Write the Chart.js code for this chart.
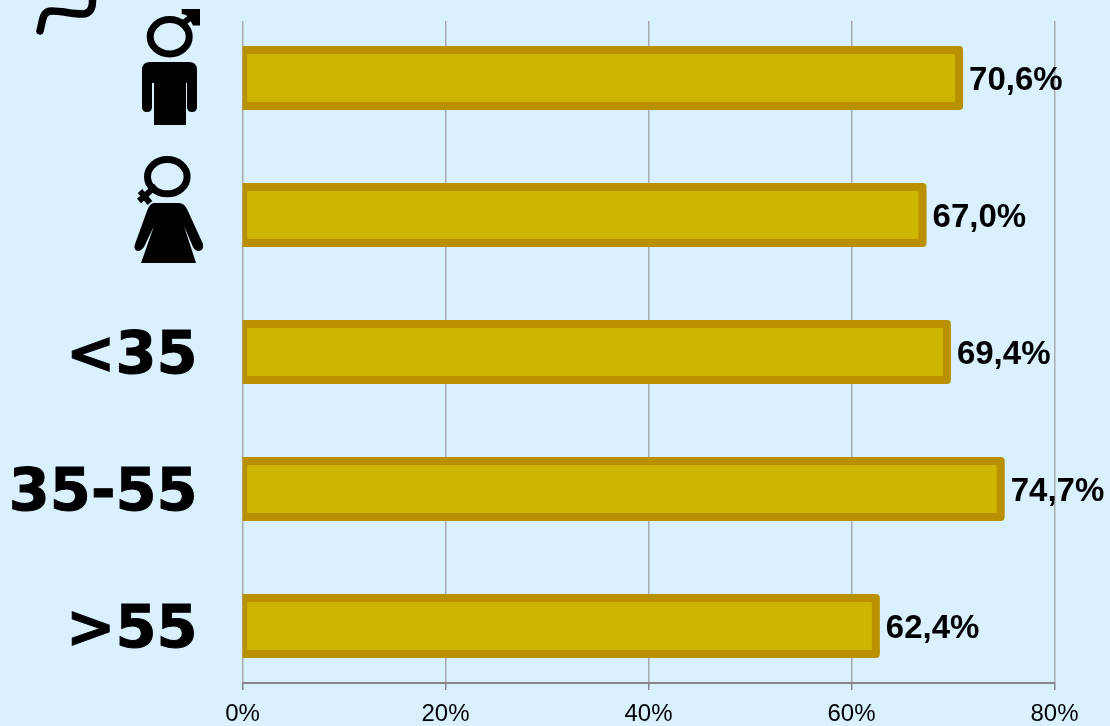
<!DOCTYPE html>
<html>
<head>
<meta charset="utf-8">
<script src="https://cdn.jsdelivr.net/npm/chart.js@4/dist/chart.umd.min.js"></script>
<style>
  html, body { margin: 0; padding: 0; background: #D9F1FF; }
  #wrap { width: 1110px; height: 726px; overflow: hidden; }
</style>
</head>
<body>
<div id="wrap"><canvas id="barChart" width="1110" height="726"></canvas></div>
<script>
const categories = ['♂', '♀', '<35', '35-55', '>55'];
const rowLabels = ['', '', '<35', '35-55', '>55'];
const values = [70.6, 67.0, 69.4, 74.7, 62.4];
const xTicks = [0, 20, 40, 60, 80];

const fillColor = '#CDB500';
const edgeColor = '#B89000';

function drawMale(ctx) {
    ctx.lineWidth = 7;
    ctx.beginPath();
    ctx.ellipse(-0.3, -41.3, 19.5, 17.2, 0, 0, Math.PI * 2);
    ctx.stroke();
    // arrow
    ctx.lineWidth = 6;
    ctx.beginPath();
    ctx.moveTo(11, -53);
    ctx.lineTo(24, -63);
    ctx.stroke();
    ctx.beginPath();
    ctx.moveTo(11.7, -69);
    ctx.lineTo(30, -69);
    ctx.lineTo(30, -52.5);
    ctx.lineTo(23, -52.5);
    ctx.lineTo(19, -60);
    ctx.lineTo(16, -63);
    ctx.lineTo(11.7, -64);
    ctx.closePath();
    ctx.fill();
    // body
    ctx.beginPath();
    ctx.moveTo(-20, -16);
    ctx.lineTo(19, -16);
    ctx.quadraticCurveTo(27, -16, 27, -8);
    ctx.lineTo(27, 29);
    ctx.quadraticCurveTo(27, 34, 22, 34);
    ctx.quadraticCurveTo(17, 34, 17, 29);
    ctx.lineTo(17, 5);
    ctx.lineTo(16, 5);
    ctx.lineTo(16, 47);
    ctx.lineTo(-16, 47);
    ctx.lineTo(-16, 5);
    ctx.lineTo(-18, 5);
    ctx.lineTo(-18, 29);
    ctx.quadraticCurveTo(-18, 34, -23, 34);
    ctx.quadraticCurveTo(-28, 34, -28, 29);
    ctx.lineTo(-28, -8);
    ctx.quadraticCurveTo(-28, -16, -20, -16);
    ctx.closePath();
    ctx.fill();
}

function drawFemale(ctx) {
    ctx.lineWidth = 7;
    ctx.beginPath();
    ctx.ellipse(-2.7, -38.3, 19.8, 17.1, 0, 0, Math.PI * 2);
    ctx.stroke();
    // cross
    ctx.lineWidth = 6;
    ctx.beginPath();
    ctx.moveTo(-14, -29);
    ctx.lineTo(-31, -14);
    ctx.moveTo(-30, -24);
    ctx.lineTo(-20, -12);
    ctx.stroke();
    // body
    ctx.beginPath();
    ctx.moveTo(-16, -12);
    ctx.lineTo(9, -12);
    ctx.quadraticCurveTo(14, -12, 17, -6);
    ctx.lineTo(33, 29);
    ctx.quadraticCurveTo(34, 35, 29, 36);
    ctx.quadraticCurveTo(25, 36, 23, 32);
    ctx.lineTo(14, 11);
    ctx.lineTo(26, 48);
    ctx.lineTo(-29, 48);
    ctx.lineTo(-16, 11);
    ctx.lineTo(-26, 32);
    ctx.quadraticCurveTo(-29, 36, -32, 36);
    ctx.quadraticCurveTo(-37, 35, -35, 29);
    ctx.lineTo(-23, -4);
    ctx.quadraticCurveTo(-20, -12, -16, -12);
    ctx.closePath();
    ctx.fill();
}

// border sits centred on the bar outline, label next to it
const barExtras = {
    id: 'barExtras',
    afterDatasetsDraw(chart) {
        const ctx = chart.ctx;
        const meta = chart.getDatasetMeta(0);
        const area = chart.chartArea;
        ctx.save();
        ctx.beginPath();
        ctx.rect(area.left, 0, chart.width, chart.height);
        ctx.clip();
        meta.data.forEach(function (bar) {
            ctx.strokeStyle = edgeColor;
            ctx.lineWidth = 8;
            ctx.lineJoin = 'round';
            ctx.strokeRect(bar.base, bar.y - bar.height / 2, bar.x - bar.base, bar.height);
        });
        ctx.restore();

        ctx.save();
        ctx.fillStyle = '#000';
        ctx.font = 'bold 33px "Liberation Sans"';
        ctx.textAlign = 'left';
        ctx.textBaseline = 'middle';
        meta.data.forEach(function (bar, i) {
            ctx.fillText(values[i].toFixed(1).replace('.', ',') + '%', bar.x + 10, bar.y + 3);
        });
        ctx.restore();
    },
    afterDraw(chart) {
        const ctx = chart.ctx;
        const y = chart.scales.y;
        ctx.save();
        ctx.fillStyle = '#000';
        ctx.strokeStyle = '#000';

        ctx.save();
        ctx.translate(170, y.getPixelForValue(0));
        drawMale(ctx);
        ctx.restore();

        ctx.save();
        ctx.translate(170, y.getPixelForValue(1));
        drawFemale(ctx);
        ctx.restore();

        // cut off mark in the corner
        ctx.lineWidth = 7.5;
        ctx.lineCap = 'round';
        ctx.beginPath();
        ctx.moveTo(40, 31);
        ctx.bezierCurveTo(43, 20, 42, 11, 52, 11);
        ctx.bezierCurveTo(62, 11, 72, 14, 82, 14);
        ctx.bezierCurveTo(90, 14, 94, 8, 92, -4);
        ctx.stroke();
        ctx.restore();
    }
};

new Chart(document.getElementById('barChart'), {
    type: 'bar',
    plugins: [barExtras],
    data: {
        datasets: [{
            label: 'Share',
            data: values.map(function (v, i) { return { x: v, y: i }; }),
            backgroundColor: fillColor,
            borderWidth: 0,
            barThickness: 56
        }]
    },
    options: {
        indexAxis: 'y',
        responsive: false,
        animation: false,
        layout: { padding: { top: 21, right: 55.5, left: 0, bottom: 0 } },
        plugins: { legend: { display: false }, tooltip: { enabled: false } },
        scales: {
            x: {
                type: 'linear',
                min: 0,
                max: 80,
                afterBuildTicks(scale) { scale.ticks = xTicks.map(function (v) { return { value: v }; }); },
                afterFit(scale) { scale.height = 43; },
                grid: { color: '#A9A9A9', lineWidth: 1.5, tickLength: 7, tickColor: '#868686' },
                border: { color: '#868686', width: 2 },
                ticks: {
                    color: '#000',
                    font: { family: '"Liberation Sans"', size: 24 },
                    padding: 10,
                    maxRotation: 0,
                    callback: function (v) { return v + '%'; }
                }
            },
            y: {
                type: 'linear',
                reverse: true,
                offset: false,
                min: -0.416,
                max: 4.416,
                afterBuildTicks(scale) { scale.ticks = categories.map(function (c, i) { return { value: i }; }); },
                afterFit(scale) {
                    scale.width = 242.5;
                    scale.paddingTop = 0;
                    scale.paddingBottom = 0;
                },
                grid: { display: false, offset: false },
                border: { display: false },
                ticks: {
                    color: '#000',
                    autoSkip: false,
                    padding: 37,
                    labelOffset: 6,
                    textStrokeColor: '#000',
                    textStrokeWidth: 1,
                    font: { family: '"DejaVu Sans"', size: 59, weight: 'bold' },
                    callback: function (v) { return rowLabels[v]; }
                }
            }
        }
    }
});
</script>
</body>
</html>
